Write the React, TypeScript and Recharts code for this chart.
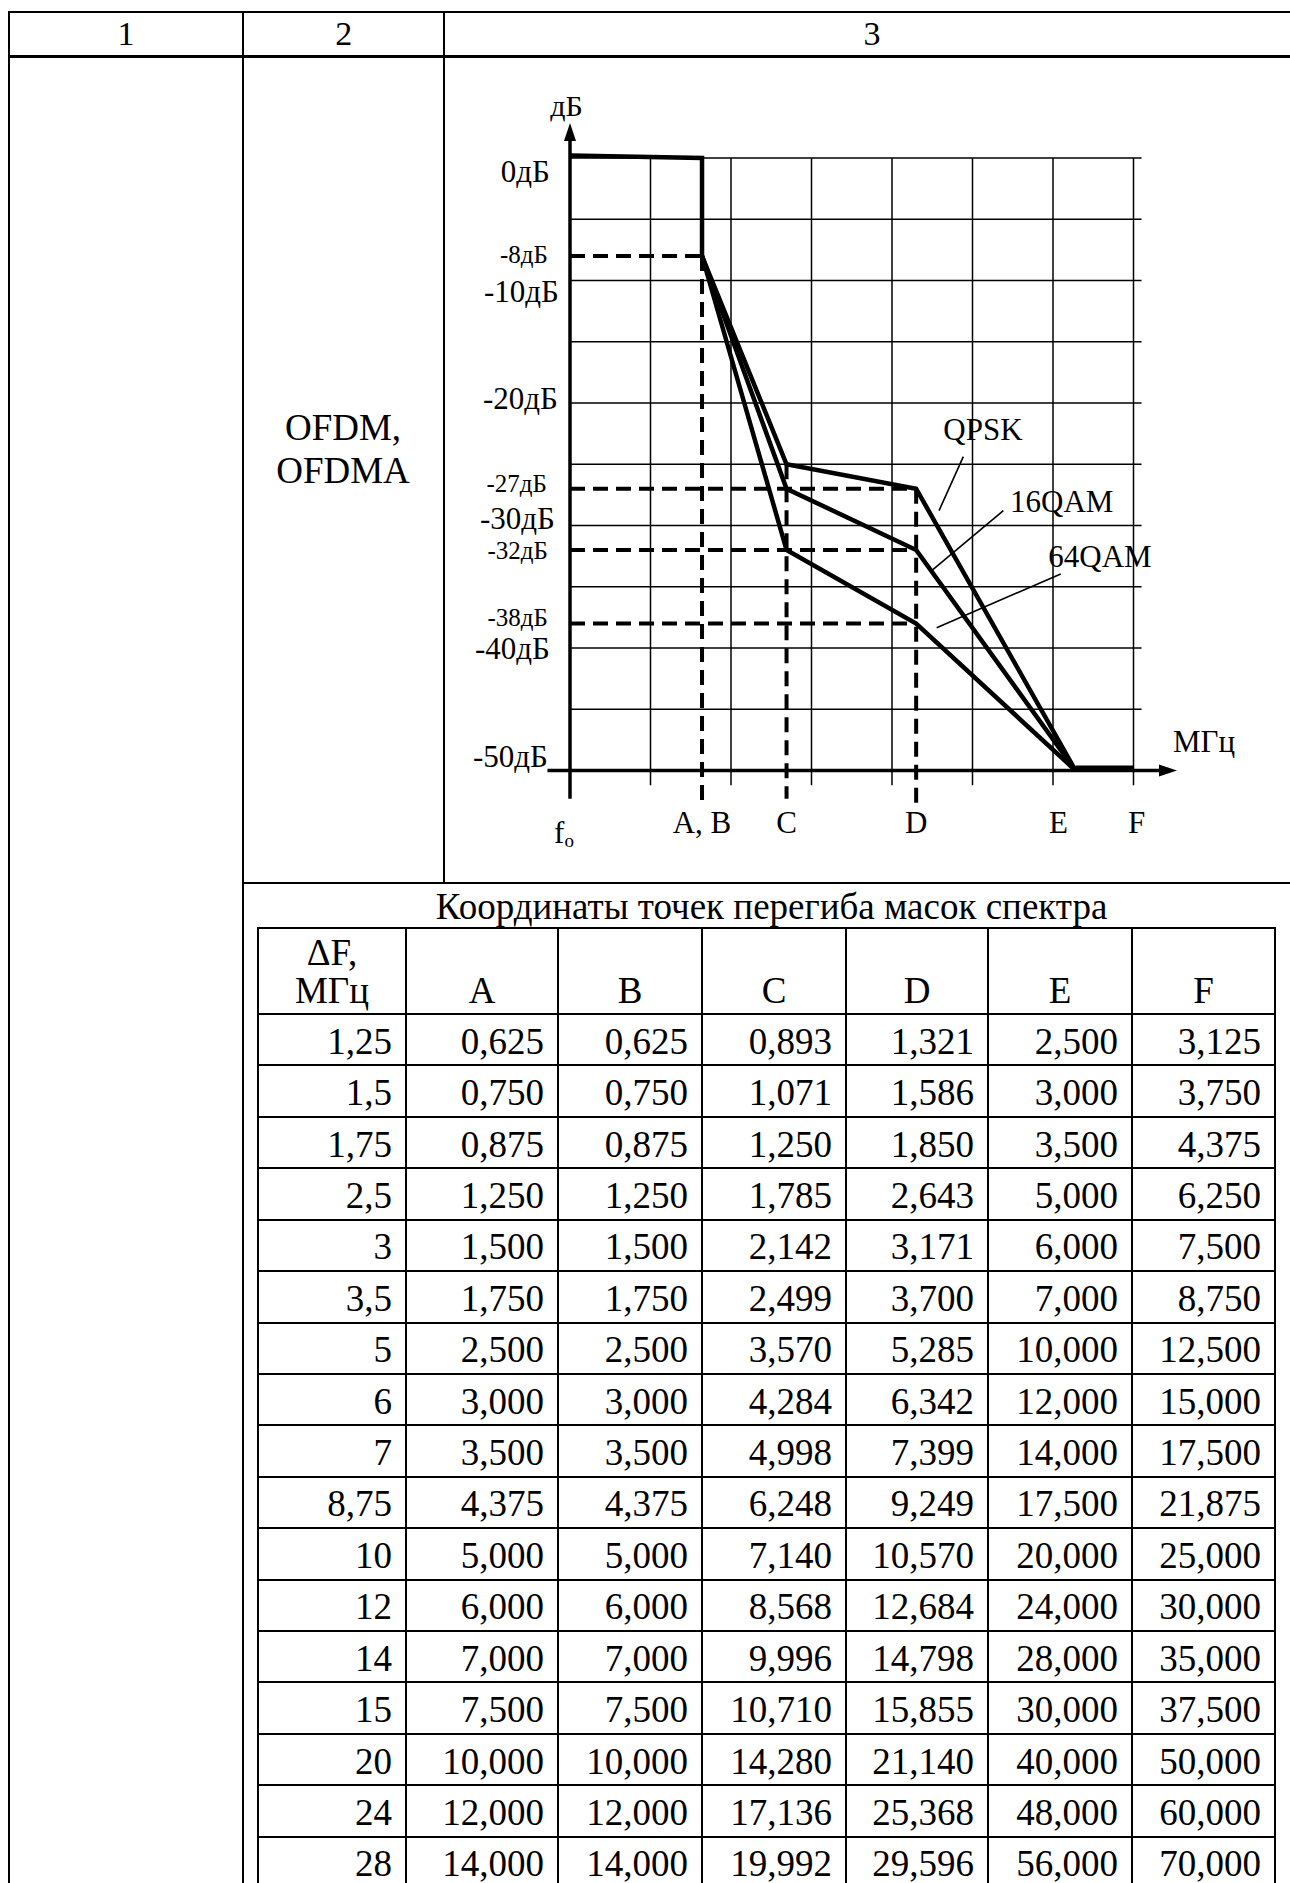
import React from 'react';
import { ComposedChart, Line, XAxis, YAxis, ReferenceLine, ReferenceDot } from 'recharts';

// ---------- table data ----------
const headerCols = ['1', '2', '3'];
const modulationLabel = ['OFDM,', 'OFDMA'];
const tableTitle = 'Координаты точек перегиба масок спектра';
const firstHead = ['ΔF,', 'МГц'];
const tableHead = ['A', 'B', 'C', 'D', 'E', 'F'];
const deltaF = [1.25, 1.5, 1.75, 2.5, 3, 3.5, 5, 6, 7, 8.75, 10, 12, 14, 15, 20, 24, 28];
const colA = [0.625, 0.75, 0.875, 1.25, 1.5, 1.75, 2.5, 3, 3.5, 4.375, 5, 6, 7, 7.5, 10, 12, 14];
const colB = [0.625, 0.75, 0.875, 1.25, 1.5, 1.75, 2.5, 3, 3.5, 4.375, 5, 6, 7, 7.5, 10, 12, 14];
const colC = [0.893, 1.071, 1.25, 1.785, 2.142, 2.499, 3.57, 4.284, 4.998, 6.248, 7.14, 8.568, 9.996, 10.71, 14.28, 17.136, 19.992];
const colD = [1.321, 1.586, 1.85, 2.643, 3.171, 3.7, 5.285, 6.342, 7.399, 9.249, 10.57, 12.684, 14.798, 15.855, 21.14, 25.368, 29.596];
const colE = [2.5, 3, 3.5, 5, 6, 7, 10, 12, 14, 17.5, 20, 24, 28, 30, 40, 48, 56];
const colF = [3.125, 3.75, 4.375, 6.25, 7.5, 8.75, 12.5, 15, 17.5, 21.875, 25, 30, 35, 37.5, 50, 60, 70];

// ---------- chart data ----------
const breakNames = ['f', 'A, B', 'C', 'D', 'E', 'F'];
const breakPos = [0, 1.64, 2.69, 4.3, 6.28, 7.0];
const passband = [{ x: 0, y: 0.2 }, { x: 1.64, y: 0 }, { x: 1.64, y: -8 }];
const qpsk = [{ x: 1.64, y: -8 }, { x: 2.69, y: -25 }, { x: 4.3, y: -27 }, { x: 6.28, y: -50 }];
const qam16 = [{ x: 1.64, y: -8 }, { x: 2.69, y: -27 }, { x: 4.3, y: -32 }, { x: 6.28, y: -50 }];
const qam64 = [{ x: 1.64, y: -8 }, { x: 2.69, y: -32 }, { x: 4.3, y: -38 }, { x: 6.28, y: -50 }];
const stopband = [{ x: 6.28, y: -49.8 }, { x: 7.0, y: -49.8 }];
const yTicks = [0, -8, -10, -20, -27, -30, -32, -38, -40, -50];
const gridDb = [0, -5, -10, -15, -20, -25, -30, -35, -40, -45];
const gridX = [1, 2, 3, 4, 5, 6, 7];
const seriesNames = ['QPSK', '16QAM', '64QAM'];

// ---------- layout ----------
const FONT = '"Liberation Serif", "Times New Roman", serif';
const TFS = 37;
const CH_LEFT = 446, CH_TOP = 58, CH_W = 844, CH_H = 823;
const ROW0 = 1014, ROWH = 51.42;
const innerCols = [258, 406, 558, 702, 846, 988, 1132, 1275];

const fmt3 = (v: number) => v.toFixed(3).replace('.', ',');
const fmtDF = (v: number) => String(v).replace('.', ',');

function H({ x1, x2, y, t = 2 }: any) {
  return <div style={{ position: 'absolute', left: x1, top: Math.round(y) - t / 2, width: x2 - x1, height: t, background: '#000' }} />;
}
function V({ x, y1, y2, t = 2 }: any) {
  return <div style={{ position: 'absolute', left: Math.round(x) - t / 2, top: y1, width: t, height: y2 - y1, background: '#000' }} />;
}
function T({ x, y, size = TFS, align = 'center', children }: any) {
  const tx = align === 'center' ? '-50%' : align === 'right' ? '-100%' : '0';
  return (
    <div style={{ position: 'absolute', left: x, top: y, transform: `translate(${tx},-50%)`, fontSize: size, lineHeight: 1, whiteSpace: 'nowrap' }}>
      {children}
    </div>
  );
}

const yTickStyle: Record<number, { dx: number; dy: number }> = {
  0: { dx: 4, dy: 13 }, [-8]: { dx: 2, dy: -2 }, [-10]: { dx: 13, dy: 11 }, [-20]: { dx: 12, dy: -5 },
  [-27]: { dx: 1, dy: -5 }, [-30]: { dx: 9, dy: -7 }, [-32]: { dx: 2, dy: 0 }, [-38]: { dx: 2, dy: -6 },
  [-40]: { dx: 4, dy: 0 }, [-50]: { dx: 2, dy: -14.5 },
};

function YTick(props: any) {
  const { x, y, payload } = props;
  const v = payload.value;
  const major = v % 10 === 0;
  const st = yTickStyle[v] || { dx: 0, dy: 0 };
  return (
    <text x={x + st.dx} y={y + st.dy} textAnchor="end" dominantBaseline="central" fontFamily={FONT} fontSize={major ? 31 : 25} fill="#000">
      {`${v}дБ`}
    </text>
  );
}

function XTick(props: any) {
  const { x, y, payload } = props;
  const idx = breakPos.indexOf(payload.value);
  const name = breakNames[idx];
  if (idx === 0) {
    return (
      <text x={x - 6} y={y + 25} textAnchor="middle" dominantBaseline="central" fontFamily={FONT} fontSize={31} fill="#000">
        f<tspan fontSize={19} dy={8}>o</tspan>
      </text>
    );
  }
  const dx = name === 'E' ? -17 : name === 'F' ? 3 : 0;
  return (
    <text x={x + dx} y={y + 15} textAnchor="middle" dominantBaseline="central" fontFamily={FONT} fontSize={31} fill="#000">
      {name}
    </text>
  );
}

const textShape = (label: string, dx = 0, dy = 0, size = 31) => (p: any) => (
  <text x={p.cx + dx} y={p.cy + dy} textAnchor="middle" dominantBaseline="central" fontFamily={FONT} fontSize={size} fill="#000">
    {label}
  </text>
);

function Chart() {
  const A = breakPos[1], C = breakPos[2], D = breakPos[3];
  const dashH = [
    { y: qpsk[0].y, to: A },
    { y: qpsk[2].y, to: D },
    { y: qam16[2].y, to: D },
    { y: qam64[2].y, to: D },
  ];
  const dashV = [
    { x: A, from: qpsk[0].y, to: -52.5 },
    { x: C, from: qpsk[1].y, to: -52.3 },
    { x: D, from: qpsk[2].y, to: -52.9 },
  ];
  const leaders = [
    [{ x: 4.886, y: -24.38 }, { x: 4.584, y: -28.79 }],
    [{ x: 5.383, y: -28.79 }, { x: 4.493, y: -33.69 }],
    [{ x: 6.096, y: -33.96 }, { x: 4.555, y: -38.34 }],
  ];
  const labelPos = [{ x: 5.13, y: -22.2 }, { x: 6.108, y: -28.06 }, { x: 6.584, y: -32.55 }];
  return (
    <ComposedChart width={CH_W} height={CH_H} margin={{ top: 63.25, right: 108.2, bottom: 43.75, left: 9.85 }}>
      <XAxis type="number" dataKey="x" domain={[-0.3, 7.6]} allowDataOverflow ticks={breakPos} interval={0}
        axisLine={false} tickLine={false} tickSize={0} tickMargin={0} height={30} tick={(p: any) => <XTick {...p} />} />
      <YAxis type="number" dataKey="y" domain={[-53, 3]} allowDataOverflow ticks={yTicks} interval={0}
        axisLine={false} tickLine={false} tickSize={0} tickMargin={0} width={90} tick={(p: any) => <YTick {...p} />} />
      {gridDb.map((g) => (
        <ReferenceLine key={'gh' + g} segment={[{ x: 0, y: g }, { x: 7.1, y: g }]} stroke="#000" strokeWidth={1.5} />
      ))}
      {gridX.map((g) => (
        <ReferenceLine key={'gv' + g} segment={[{ x: g, y: 0 }, { x: g, y: -51.2 }]} stroke="#000" strokeWidth={1.5} />
      ))}
      {dashH.map((d, i) => (
        <ReferenceLine key={'dh' + i} segment={[{ x: 0, y: d.y }, { x: d.to, y: d.y }]} stroke="#000" strokeWidth={4} strokeDasharray="15 8" />
      ))}
      {dashV.map((d, i) => (
        <ReferenceLine key={'dv' + i} segment={[{ x: d.x, y: d.from }, { x: d.x, y: d.to }]} stroke="#000" strokeWidth={4} strokeDasharray="15 8" />
      ))}
      <ReferenceLine segment={[{ x: 0, y: -52.3 }, { x: 0, y: 2 }]} stroke="#000" strokeWidth={3.5} />
      <ReferenceLine segment={[{ x: -0.28, y: -50 }, { x: 7.4, y: -50 }]} stroke="#000" strokeWidth={3.5} />
      <ReferenceDot x={0} y={2.85} r={0} ifOverflow="visible"
        shape={(p: any) => <polygon points={`${p.cx},${p.cy} ${p.cx - 6},${p.cy + 18} ${p.cx + 6},${p.cy + 18}`} fill="#000" />} />
      <ReferenceDot x={7.54} y={-50} r={0} ifOverflow="visible"
        shape={(p: any) => <polygon points={`${p.cx},${p.cy} ${p.cx - 18},${p.cy - 6} ${p.cx - 18},${p.cy + 6}`} fill="#000" />} />
      <ReferenceDot x={0} y={3} r={0} ifOverflow="visible" shape={textShape('дБ', -3.5, -16, 30)} />
      <ReferenceDot x={7.54} y={-50} r={0} ifOverflow="visible" shape={textShape('МГц', 27, -29, 31)} />
      {leaders.map((l, i) => (
        <ReferenceLine key={'ld' + i} segment={l} stroke="#000" strokeWidth={1.6} />
      ))}
      {labelPos.map((p, i) => (
        <ReferenceDot key={'lb' + i} x={p.x} y={p.y} r={0} ifOverflow="visible" shape={textShape(seriesNames[i], 0, 0, 31)} />
      ))}
      <Line data={passband} dataKey="y" type="linear" stroke="#000" strokeWidth={4.5} dot={false} isAnimationActive={false} />
      <Line data={qpsk} dataKey="y" name="QPSK" type="linear" stroke="#000" strokeWidth={4.5} dot={false} isAnimationActive={false} />
      <Line data={qam16} dataKey="y" name="16QAM" type="linear" stroke="#000" strokeWidth={4.5} dot={false} isAnimationActive={false} />
      <Line data={qam64} dataKey="y" name="64QAM" type="linear" stroke="#000" strokeWidth={4.5} dot={false} isAnimationActive={false} />
      <Line data={stopband} dataKey="y" type="linear" stroke="#000" strokeWidth={5} dot={false} isAnimationActive={false} />
    </ComposedChart>
  );
}

export default function App() {
  const cols = [colA, colB, colC, colD, colE, colF];
  const rows = deltaF.map((d, i) => [fmtDF(d), ...cols.map((c) => fmt3(c[i]))]);
  const pad = 14;
  return (
    <div style={{ position: 'absolute', left: 0, top: 0, width: 1290, height: 1883, overflow: 'hidden', background: '#fff', fontFamily: FONT, color: '#000' }}>
      {/* outer table */}
      <H x1={8} x2={1301} y={12} t={2} />
      <H x1={8} x2={1301} y={56} t={3} />
      <H x1={243} x2={1301} y={883} t={2} />
      <V x={9} y1={11} y2={1883} t={2} />
      <V x={243} y1={11} y2={1883} t={2} />
      <V x={444} y1={11} y2={883} t={2} />
      <V x={1300} y1={11} y2={1883} t={2} />
      <T x={126} y={34.3} size={34}>{headerCols[0]}</T>
      <T x={343.8} y={34.3} size={34}>{headerCols[1]}</T>
      <T x={872} y={34.3} size={34}>{headerCols[2]}</T>
      <T x={343} y={427}>{modulationLabel[0]}</T>
      <T x={343} y={470}>{modulationLabel[1]}</T>
      <T x={771.6} y={906}>{tableTitle}</T>

      {/* chart */}
      <div style={{ position: 'absolute', left: CH_LEFT, top: CH_TOP, width: CH_W, height: CH_H }}>
        <Chart />
      </div>

      {/* inner table */}
      <H x1={innerCols[0] - 1} x2={innerCols[7] + 1} y={928} t={2} />
      {rows.map((_, i) => (
        <H key={'rl' + i} x1={innerCols[0] - 1} x2={innerCols[7] + 1} y={ROW0 + ROWH * i} t={2} />
      ))}
      {innerCols.map((x, i) => (
        <V key={'cl' + i} x={x} y1={927} y2={1883} t={2} />
      ))}
      <T x={(innerCols[0] + innerCols[1]) / 2} y={952}>{firstHead[0]}</T>
      <T x={(innerCols[0] + innerCols[1]) / 2} y={990}>{firstHead[1]}</T>
      {tableHead.map((h, j) => (
        <T key={'th' + j} x={(innerCols[j + 1] + innerCols[j + 2]) / 2} y={990}>{h}</T>
      ))}
      {rows.map((r, i) =>
        r.map((cell, j) => (
          <T key={`c${i}-${j}`} x={innerCols[j + 1] - pad} y={ROW0 + ROWH * (i + 0.5) + 1} align="right">{cell}</T>
        ))
      )}
    </div>
  );
}
